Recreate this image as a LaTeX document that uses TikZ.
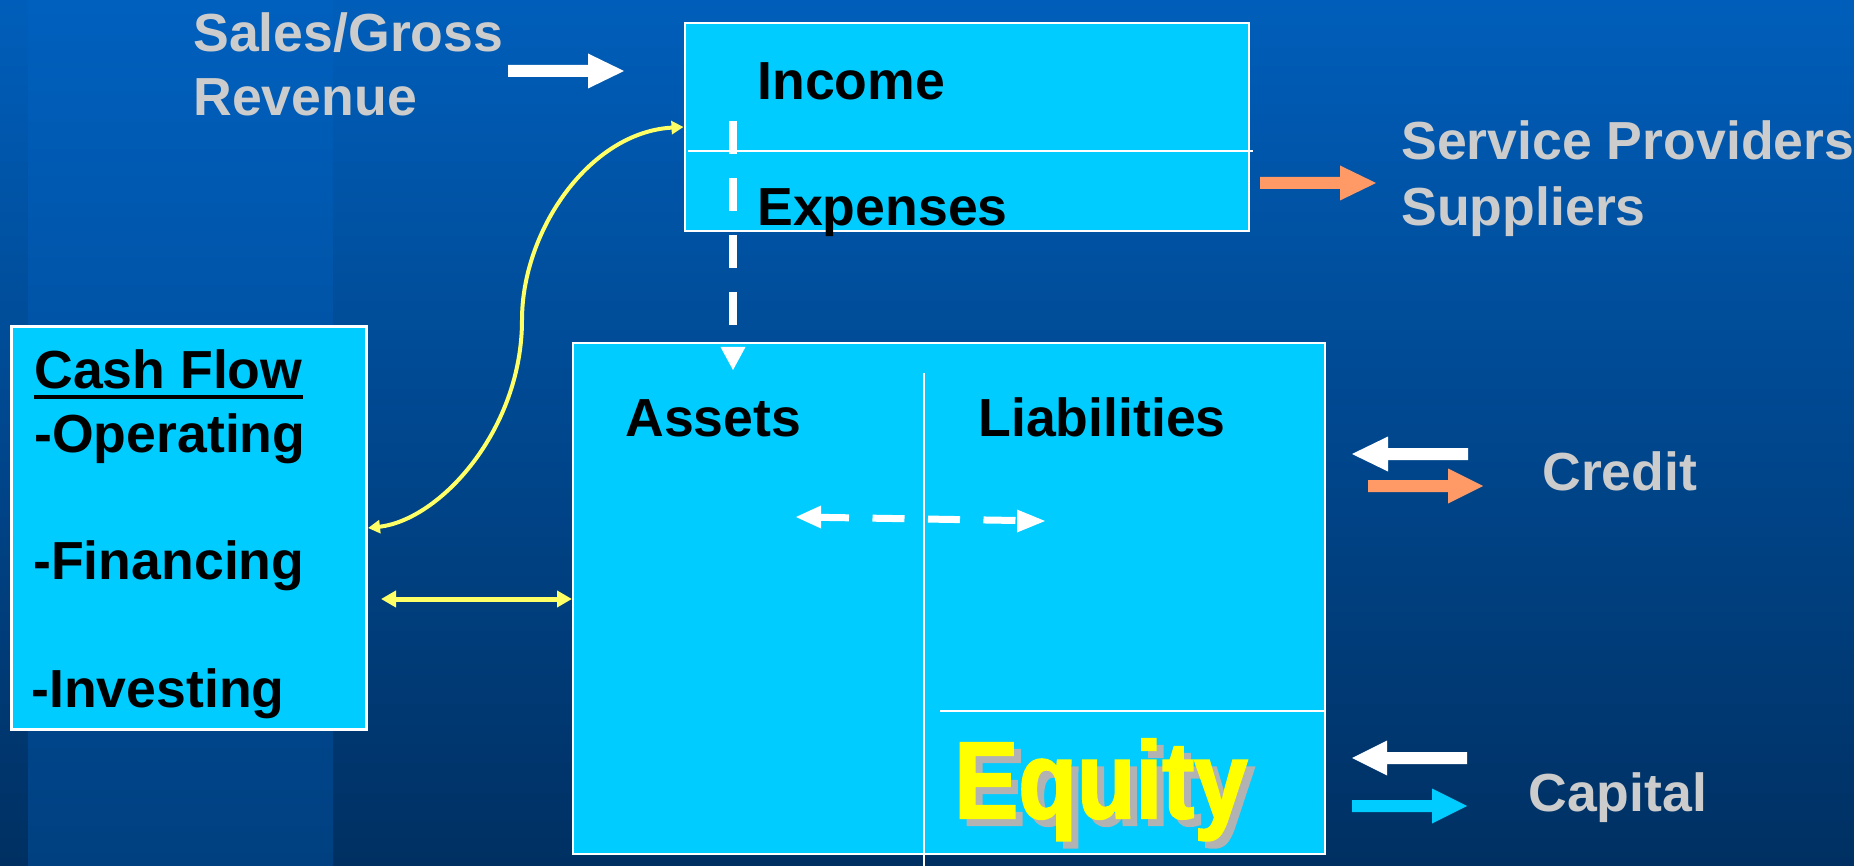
\documentclass[tikz,border=0pt]{standalone}
\usepackage{fontspec}
\setmainfont{Liberation Sans}
\newfontfamily\equityfont[FakeStretch=0.88,FakeBold=2]{Liberation Sans}
\usetikzlibrary{arrows.meta,calc}

\definecolor{bgtop}{RGB}{0,94,186}
\definecolor{bgbot}{RGB}{0,48,98}
\definecolor{bandtop}{RGB}{0,96,190}
\definecolor{bandbot}{RGB}{0,64,128}
\definecolor{boxcyan}{RGB}{0,204,255}
\definecolor{labelgray}{RGB}{204,204,204}
\definecolor{curveyellow}{RGB}{255,255,102}
\definecolor{arroworange}{RGB}{255,153,102}
\definecolor{eqyellow}{RGB}{255,255,0}
\definecolor{eqshadow}{RGB}{178,178,178}

% filled block arrow: colour, tail x, head-base x, tip x, centre y
\newcommand{\blockarrow}[5]{%
  \fill[#1] (#2,{#5-6}) -- (#3,{#5-6}) -- (#3,{#5-17.5}) -- (#4,#5)
    -- (#3,{#5+17.5}) -- (#3,{#5+6}) -- (#2,{#5+6}) -- cycle;}

\begin{document}
\begin{tikzpicture}[x=0.5pt,y=-0.5pt,
  box/.style={draw=white, fill=boxcyan, line width=1pt, inner sep=0pt, anchor=north west},
  divider/.style={draw=white, line width=1pt},
  lbl/.style={inner sep=0pt, anchor=base west, text=black,
    font=\fontsize{26.8pt}{32pt}\selectfont\bfseries},
  grey/.style={lbl, text=labelgray},
  eq/.style={inner sep=0pt, anchor=base west,
    font=\equityfont\bfseries\fontsize{54.5pt}{60pt}\selectfont},
  ycurve/.style={draw=curveyellow, line width=2pt},
  ytip/.style={Triangle[length=6pt,width=6.5pt]},
  ytipbig/.style={Triangle[length=7.5pt,width=8pt]}
]
\useasboundingbox (0,0) rectangle (1854,866);

% background with lighter vertical band
\shade[top color=bgtop, bottom color=bgbot] (0,0) rectangle (1854,866);
\shade[top color=bandtop, bottom color=bandbot] (28,0) rectangle (333,866);

% boxes
\node[box, minimum width=282.25pt, minimum height=104pt] (income) at (683.5,22) {};
\node[box, line width=1.5pt, minimum width=177.5pt, minimum height=201.5pt] (cash) at (10,325) {};
\node[box, minimum width=376pt, minimum height=255.5pt] (assets) at (572,342) {};

% section lines
\draw[divider] (688,151) -- (1253,151);
\draw[divider, line width=1.2pt] (924,373) -- (924,866);
\draw[divider] (940,711) -- (1325,711);

% labels
\node[grey] (sales1) at (193,52) {Sales/Gross};
\node[grey] (sales2) at (193,116) {Revenue};
\node[lbl] (incT) at (757,100) {Income};
\node[lbl] (expT) at (757,226) {Expenses};
\node[grey] (serv) at (1401,160) {Service Providers};
\node[grey] (supp) at (1401,226) {Suppliers};
\node[lbl] (cashT) at (34,388) {Cash Flow};
\draw[line width=2.25pt] ($(cashT.base west)+(0,9)$) -- ($(cashT.base east)+(0,9)$);
\node[lbl] (oper) at (34,452) {-Operating};
\node[lbl] (fin) at (33,579) {-Financing};
\node[lbl] (inv) at (31,707) {-Investing};
\node[lbl] (assT) at (625,437) {Assets};
\node[lbl] (liaT) at (978,437) {Liabilities};
\node[grey] (credit) at (1542,490) {Credit};
\node[grey] (capital) at (1528,811) {Capital};
\node[eq, text=eqshadow] (eqS) at (961,825) {Equity};
\node[eq, text=eqyellow] (eqT) at (954,818) {Equity};

% block arrows
\blockarrow{white}{508}{588}{624}{71}
\blockarrow{arroworange}{1260}{1340}{1376}{183}
\blockarrow{white}{1468}{1388}{1352}{454}
\blockarrow{arroworange}{1368}{1448}{1483}{486}
\blockarrow{white}{1467}{1387}{1352}{758}
\blockarrow{boxcyan}{1352}{1432}{1467}{806}

% cash flow links
\draw[ycurve, {Triangle[length=6pt,width=6.5pt]}-{Triangle[length=6pt,width=6.5pt]}]
  (cash.east) .. controls (440,520) and (522,430) .. (522,320)
  .. controls (522,230) and (590,132) .. (income.west);
\coordinate (yl) at (381,599);
\draw[draw=curveyellow, line width=2.5pt, {Triangle[length=7.5pt,width=8pt]}-{Triangle[length=7.5pt,width=8pt]}]
  (yl) -- (assets.west |- yl);

% dashed flow from income statement to balance sheet
\coordinate (dtop) at (733,121);
\coordinate (dend) at (733,325);
\draw[white, line width=4pt, dash pattern=on 16.5pt off 12pt] (dtop) -- (dend);
\fill[white] (720.5,347) -- (745.5,347) -- (733,370) -- cycle;

% dashed double arrow between assets and liabilities
\coordinate (hl) at (817,517.3);
\coordinate (hr) at (1017,520.5);
\draw[white, line width=3.5pt, dash pattern=on 16pt off 11.75pt] (hl) -- (hr);
\fill[white] (821,505.5) -- (796,517) -- (821,528.5) -- cycle;
\fill[white] (1017,509.5) -- (1045,521) -- (1017,532.5) -- cycle;
\end{tikzpicture}
\end{document}
